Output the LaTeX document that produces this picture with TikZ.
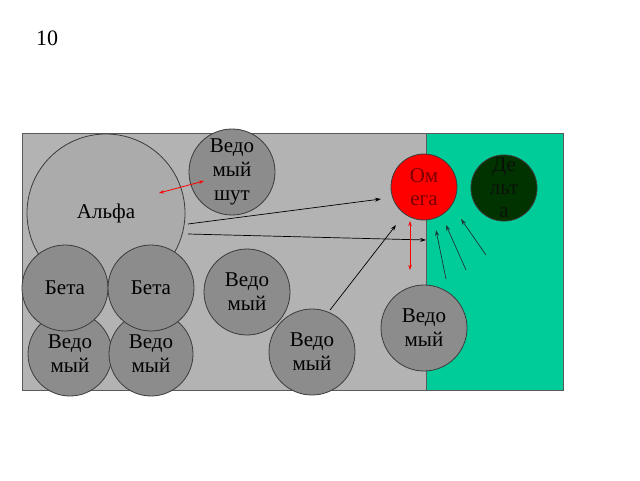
\documentclass[tikz,border=0pt]{standalone}
\usepackage{fontspec}
\setmainfont{Liberation Serif}
\usetikzlibrary{arrows.meta}
\definecolor{bggray}{HTML}{B3B3B3}
\definecolor{alphagray}{HTML}{ABABAB}
\definecolor{ballgray}{HTML}{8C8C8C}
\definecolor{circline}{HTML}{3C3C3C}
\definecolor{teal}{HTML}{00CC99}
\definecolor{omegared}{HTML}{FF0000}
\definecolor{omegatext}{HTML}{7A0000}
\definecolor{deltagreen}{HTML}{003300}
\definecolor{deltatext}{HTML}{0A120A}
\definecolor{arrowdark}{HTML}{1E3434}
\definecolor{frame}{HTML}{5A5A5A}
\begin{document}
\begin{tikzpicture}[x=1pt,y=-1pt,
  txt/.style={font=\fontsize{21}{24}\selectfont},
  ball/.style={circle,draw=circline,line width=0.8pt,fill=ballgray,inner sep=0pt,align=center,txt},
  arr/.style={line width=0.7pt,-{Stealth[length=6pt,width=4pt]}},
  redarr/.style={draw=red,line width=0.8pt,{Stealth[length=5pt,width=3.5pt]}-{Stealth[length=5pt,width=3.5pt]}}]
\useasboundingbox[fill=white] (0,0) rectangle (640,480);
\node[font=\fontsize{22}{24}\selectfont] (num) at (47,38) {10};
% field
\draw[fill=bggray,draw=frame,line width=0.8pt] (22,133) rectangle (563,390);
\draw[fill=teal,draw=frame,line width=0.8pt] (426,133) rectangle (563,390);
% circles
\node[ball,fill=alphagray,minimum size=158pt] (alpha) at (106,213) {Альфа};
\node[ball,minimum size=86pt] (jester) at (232,172) {Ведо\\мый\\шут};
\node[ball,minimum size=84pt] (w1) at (70,354) {Ведо\\мый};
\node[ball,minimum size=84pt] (w2) at (151,354) {Ведо\\мый};
\node[ball,minimum size=86pt] (b1) at (65,288) {Бета};
\node[ball,minimum size=86pt] (b2) at (151,288) {Бета};
\node[ball,minimum size=86pt] (w3) at (247,292) {Ведо\\мый};
\node[ball,minimum size=86pt] (w4) at (312,352) {Ведо\\мый};
\node[ball,minimum size=86pt] (w5) at (424,328) {Ведо\\мый};
\node[ball,fill=omegared,text=omegatext,minimum size=66pt,font=\fontsize{21}{23}\selectfont] (omega) at (424,187) {Ом\\ега};
\node[ball,fill=deltagreen,text=deltatext,minimum size=66pt,font=\fontsize{21}{23}\selectfont] (delta) at (504,188) {Де\\льт\\а};
% arrow end points
\coordinate (r1s) at (159,193);
\coordinate (r1e) at (204,181);
\coordinate (a1s) at (188,224);
\coordinate (a1e) at (381,199);
\coordinate (a2s) at (188,234);
\coordinate (a2e) at (426,240);
\coordinate (a3s) at (330,310);
\coordinate (a3e) at (396,225);
\coordinate (r2s) at (410,221);
\coordinate (r2e) at (410,270);
\coordinate (g1s) at (446,279);
\coordinate (g1e) at (436,230);
\coordinate (g2s) at (466,270);
\coordinate (g2e) at (446,225);
\coordinate (g3s) at (486,255);
\coordinate (g3e) at (461,219);
% arrows
\draw[redarr] (r1s) -- (r1e);
\draw[arr] (a1s) -- (a1e);
\draw[arr] (a2s) -- (a2e);
\draw[arr] (a3s) -- (a3e);
\draw[redarr] (r2s) -- (r2e);
\draw[arr,draw=arrowdark] (g1s) -- (g1e);
\draw[arr,draw=arrowdark] (g2s) -- (g2e);
\draw[arr,draw=arrowdark] (g3s) -- (g3e);
\end{tikzpicture}
\end{document}
